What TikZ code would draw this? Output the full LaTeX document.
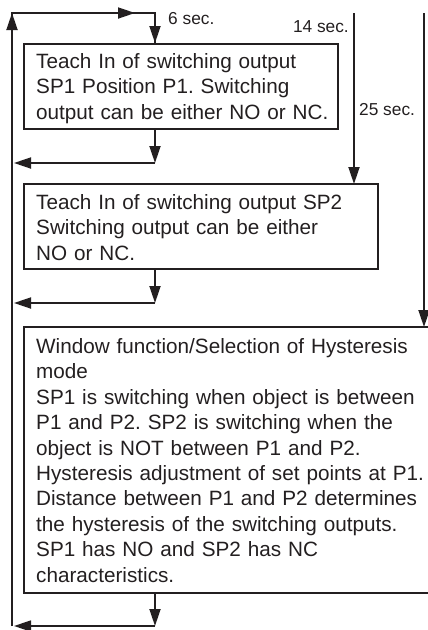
\documentclass[tikz,border=0pt]{standalone}
\usepackage{fontspec}
\setmainfont{Liberation Sans}
\usetikzlibrary{arrows.meta}
\definecolor{ink}{HTML}{231F20}
\frenchspacing
\begin{document}
\begin{tikzpicture}[x=1pt,y=-1pt,
  line/.style={draw=ink, line width=1.8pt},
  arr/.style={line, -{Triangle[length=17pt,width=11pt]}},
  box/.style={draw=ink, line width=1.6pt, inner sep=0pt, anchor=north west},
  txt/.style={anchor=north west, inner sep=0pt, text width=400pt, align=left,
    font=\fontsize{20.7}{25.4}\selectfont\frenchspacing, text=ink},
  lbl/.style={inner sep=0pt, font=\fontsize{17.3}{20}\selectfont, text=ink}]
\useasboundingbox (0,0) rectangle (428,630);
\clip (0,0) rectangle (428,630);

% boxes
\node[box, minimum width=314pt, minimum height=85pt] (b1) at (23,43) {};
\node[box, minimum width=354pt, minimum height=85pt] (b2) at (23,183) {};
\node[box, minimum width=409pt, minimum height=266pt] (b3) at (23,326) {};

% texts
\node[txt] (t1) at (36,50.5) {\strut Teach In of switching output\\SP1 Position P1. Switching\\output can be either NO or NC.};
\node[txt] (t2) at (36,191.5) {\strut Teach In of switching output SP2\\Switching output can be either\\NO or NC.};
\node[txt] (t3) at (36,335.5) {\strut Window function/Selection of Hysteresis\\mode\\SP1 is switching when object is between\\P1 and P2. SP2 is switching when the\\object is NOT between P1 and P2.\\Hysteresis adjustment of set points at P1.\\Distance between P1 and P2 determines\\the hysteresis of the switching outputs.\\SP1 has NO and SP2 has NC\\characteristics.};

% labels
\node[lbl, anchor=base west] (l6) at (168,24) {6 sec.};
\node[lbl, anchor=base east] (l14) at (349,32) {14 sec.};
\node[lbl, anchor=base west] (l25) at (359,115) {25 sec.};

% coordinates
\coordinate (tl) at (12,13);
\coordinate (bl) at (12,626);
\coordinate (m1) at (135,13);
\coordinate (tc) at (155,13);
\coordinate (c1) at (155,163);
\coordinate (c2) at (155,303);
\coordinate (c3) at (155,626);
\coordinate (s14) at (354,13);
\coordinate (s25) at (424,13);

% loop back line and top
\draw[line] (bl) -- (tl) -- (tc) -- (tc |- b1.north);
\draw[arr] (bl) -- (tl);
\draw[arr] (tl) -- (m1);
\draw[arr] (tc) -- (tc |- b1.north);

% returns
\draw[arr] (tc |- b1.south) -- (c1);
\draw[arr] (c1) -- ([xshift=2pt]bl |- c1);
\draw[arr] (tc |- b2.south) -- (c2);
\draw[arr] (c2) -- ([xshift=2pt]bl |- c2);
\draw[arr] (tc |- b3.south) -- (c3);
\draw[arr] (c3) -- ([xshift=2pt]bl |- c3);

% timed lines
\draw[arr] (s14) -- ([yshift=-1pt]s14 |- b2.north);
\draw[arr] (s25) -- ([yshift=-1pt]s25 |- b3.north);
\end{tikzpicture}
\end{document}
